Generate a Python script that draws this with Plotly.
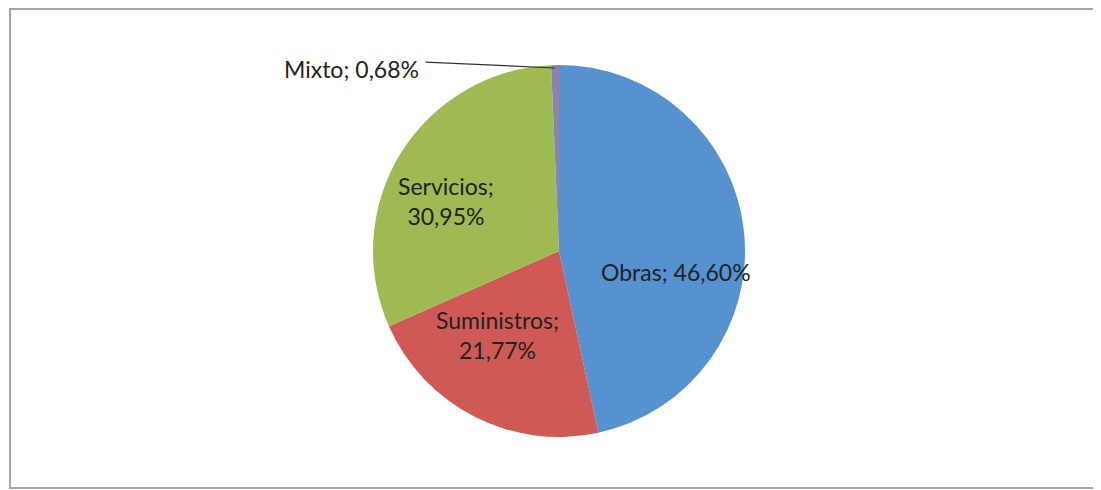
import plotly.graph_objects as go

labels = ["Obras", "Suministros", "Servicios", "Mixto"]
values = [46.60, 21.77, 30.95, 0.68]
colors = ["#5592cf", "#cf5a55", "#9fba52", "#8c84a6"]

W, H = 1101, 490
OFF = 8  # page body margin


def px_x(x):
    return (x - OFF) / W


def px_y(y):
    return 1 - (y - OFF) / H


def fmt(v):
    return f"{v:.2f}%".replace(".", ",")


fig = go.Figure(go.Pie(
    labels=labels, values=values, sort=False, direction="clockwise",
    rotation=0, marker=dict(colors=colors, line=dict(width=0)),
    textinfo="none", hoverinfo="label+percent", showlegend=False,
    domain=dict(x=[px_x(373), px_x(745)], y=[px_y(437), px_y(65)]),
))

font = dict(family="Lato, Open Sans, sans-serif", size=23, color="#222222")

# label positions (pixels), text built from the data
label_pos = {
    "Obras": (676, 272, "{l}; {v}"),
    "Suministros": (497, 366, "{l};<br>{v}"),
    "Servicios": (446, 201, "{l};<br>{v}"),
}
for lab, val in zip(labels, values):
    if lab in label_pos:
        x, y, tpl = label_pos[lab]
        fig.add_annotation(x=px_x(x), y=px_y(y), xref="paper", yref="paper",
                           text=tpl.format(l=lab, v=fmt(val)), showarrow=False,
                           font=font)

mix = labels.index("Mixto")
fig.add_annotation(x=px_x(555), y=px_y(68), xref="paper", yref="paper",
                   ax=-131, ay=-6,
                   text="", showarrow=True, arrowhead=0, arrowwidth=1.2,
                   arrowcolor="#333333", standoff=0, startstandoff=0)
fig.add_annotation(x=px_x(421), y=px_y(53), xref="paper", yref="paper",
                   xanchor="right", text=f"{labels[mix]}; {fmt(values[mix])}",
                   showarrow=False, font=font)

fig.add_shape(type="rect", xref="paper", yref="paper",
              x0=px_x(10), x1=px_x(1099), y0=px_y(488), y1=px_y(9),
              line=dict(color="#a6a6a6", width=2))

fig.update_layout(width=W, height=H, margin=dict(l=0, r=0, t=0, b=0),
                  paper_bgcolor="white", plot_bgcolor="white")

fig.write_html("out.html")
